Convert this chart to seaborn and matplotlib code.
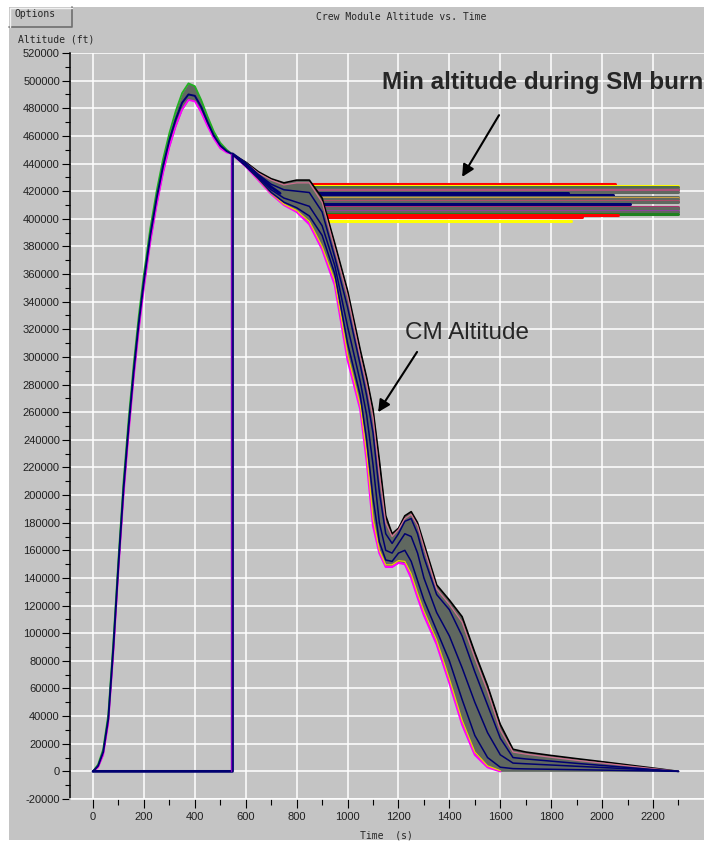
import matplotlib
matplotlib.use("Agg")
import matplotlib.pyplot as plt
import seaborn as sns
from matplotlib.patches import Rectangle
from matplotlib.lines import Line2D
from matplotlib.ticker import FixedLocator, FuncFormatter

# ---------------- data ----------------
# ascent (s, ft)
asc_t = [0, 20, 40, 60, 80, 100, 120, 140, 160, 180, 200, 225, 250, 275, 300,
         325, 350, 375, 400, 425, 450, 475, 500, 525, 545]
asc_mid = [0, 4000, 14000, 38000, 90000, 150000, 205000, 250000, 290000, 325000,
           355000, 388000, 415000, 438000, 457000, 472000, 484000, 490000, 489000,
           481000, 470000, 460000, 453000, 449000, 447000]
asc_lo = [0, 3000, 12000, 35000, 86000, 146000, 200000, 245000, 285000, 320000,
          350000, 383000, 410000, 433000, 452000, 467000, 479000, 486000, 485000,
          477000, 467000, 458000, 451000, 448000, 447000]
asc_hi = [0, 5000, 16000, 41000, 94000, 154000, 210000, 255000, 295000, 330000,
          360000, 393000, 420000, 443000, 462000, 478000, 491000, 498000, 496000,
          486000, 474000, 463000, 455000, 450000, 447000]

# descent after SM separation (s, ft)
desc_t = [545, 600, 650, 700, 750, 800, 850, 900, 950, 1000, 1050, 1075, 1100,
          1125, 1150, 1175, 1200, 1225, 1250, 1275, 1300, 1350, 1400, 1450,
          1500, 1550, 1600, 1650, 1700, 1800, 1900, 2000, 2100, 2200, 2300]
desc_lo = [447000, 438000, 428000, 418000, 410000, 405000, 396000, 378000, 352000,
           298000, 262000, 225000, 178000, 158000, 148000, 148000, 151000, 150000,
           140000, 126000, 113000, 92000, 64000, 34000, 12000, 3000, 0, 0, 0, 0,
           0, 0, 0, 0, 0]
desc_hi = [447000, 441000, 434000, 429000, 426000, 428000, 428000, 415000, 382000,
           348000, 305000, 285000, 262000, 225000, 185000, 172000, 176000, 185000,
           188000, 180000, 165000, 135000, 124000, 112000, 86000, 62000, 34000,
           16000, 14000, 11500, 9200, 7000, 4700, 2400, 0]
desc_pink = [447000, 440500, 433000, 428000, 424500, 426000, 426000, 412000,
             378000, 344000, 300000, 280000, 256000, 215000, 180000, 170000,
             175000, 183000, 186000, 178000, 162000, 132000, 121000, 108000,
             82000, 58000, 30000, 14000, 12500, 10200, 8000, 6000, 4000, 2000, 0]
desc_yellow = [447000, 438500, 428500, 418500, 410500, 406000, 398000, 380000,
               355000, 302000, 265000, 230000, 183000, 160000, 149500, 149500,
               152500, 152000, 143000, 129000, 116000, 95000, 67000, 37000,
               14000, 4000, 500]
desc_navy_a = [447000, 440000, 432000, 425000, 421000, 420000, 419000, 405000,
               372000, 336000, 294000, 272000, 245000, 202000, 172000, 165000,
               172000, 181000, 183000, 172000, 155000, 128000, 117000, 98000,
               72000, 48000, 24000, 10000, 9000, 7400, 5800, 4300, 2800, 1300, 0]
desc_navy_b = [447000, 439000, 430000, 421000, 415000, 412000, 409000, 395000,
               366000, 322000, 282000, 258000, 222000, 180000, 160000, 158000,
               165000, 172000, 170000, 158000, 140000, 115000, 98000, 75000,
               50000, 28000, 12000, 6000, 5500, 4600, 3700, 2800, 1900, 1000, 0]
desc_navy_c = [447000, 438000, 429000, 419000, 412000, 408000, 402000, 388000,
               360000, 310000, 272000, 240000, 198000, 166000, 153000, 152000,
               158000, 160000, 152000, 138000, 124000, 102000, 80000, 52000,
               26000, 10000, 3000, 2000, 1800, 1500, 1200, 900, 600, 300, 0]

# minimum altitude reached during the SM burn, one value per run
sm_min_alt = [425000, 424000, 422800, 421800, 420800, 419500, 418400, 417200,
              416000, 415000, 414000, 413000, 412000, 411000, 410400, 409500,
              408800, 407800, 406800, 405600, 404600, 403600, 402500, 401500,
              398600]
sm_burn_end = [745, 750, 760, 770, 780, 790, 735, 760, 800, 805, 810, 815, 820,
               790, 800, 813, 825, 830, 835, 840, 845, 850, 855, 858, 860]
sm_run_end = [2050, 2300, 2300, 2300, 2300, 2300, 1866, 2043, 2300, 2300, 2300,
              2300, 2300, 1842, 2110, 2050, 2300, 2300, 2300, 2300, 2300, 2300,
              2063, 1921, 1878]
sm_colors = ["#ff0000", "#ffff00", "#4f6b4f", "#606860", "#b0507a", "#606860",
             "#000070", "#000070", "#606860", "#c8a040", "#606860", "#b04a6a",
             "#606860", "#000070", "#000070", "#000070", "#b03070", "#606860",
             "#606860", "#9040a0", "#606860", "#208020", "#ff0000", "#ff0000",
             "#ffff00"]

# SM-burn altitude tracker before and at burn start
sm_track_t = [0, 548, 548, 600, 650, 700, 735]
sm_track_alt = [0, 0, 447000, 440000, 431000, 423000, 418400]

x_major = list(range(0, 2201, 200))
x_minor = list(range(100, 2301, 200))
y_major = list(range(-20000, 520001, 20000))
y_minor = list(range(-10000, 510001, 20000))

# ---------------- style ----------------
sns.set_style("white")
plt.rcParams["axes.unicode_minus"] = False
PANEL = "#c4c4c4"
BAND = "#606860"
NAVY = "#000070"
W, H = 704, 842

fig = plt.figure(figsize=(W / 100, H / 100), dpi=100, facecolor="white")


def fx(px):
    return px / W


def fy(py):
    return 1 - py / H


# window panel
fig.add_artist(Rectangle((fx(9), fy(840)), fx(704 - 9), (840 - 7) / H,
                         transform=fig.transFigure, facecolor=PANEL,
                         edgecolor="none", zorder=0))
# "Options" button
fig.add_artist(Rectangle((fx(9), fy(27)), fx(63), 20 / H, transform=fig.transFigure,
                         facecolor=PANEL, edgecolor="none", zorder=1))
fig.add_artist(Line2D([fx(9), fx(72), fx(72)], [fy(27), fy(27), fy(7)],
                      transform=fig.transFigure, color="#6e6e6e", lw=1.2, zorder=2))
fig.add_artist(Line2D([fx(9.5), fx(9.5), fx(72)], [fy(27), fy(7.5), fy(7.5)],
                      transform=fig.transFigure, color="#f0f0f0", lw=1.0, zorder=2))

mono = ["DejaVu Sans Mono"]
fig.text(fx(15), fy(14), "Options", family=mono, fontsize=7, va="center", ha="left")
fig.text(fx(401), fy(17), "Crew Module Altitude vs. Time", family=mono, fontsize=7,
         va="center", ha="center")
fig.text(fx(18), fy(39), "Altitude (ft)", family=mono, fontsize=7, va="center",
         ha="left")
fig.text(fx(386), fy(836), "Time  (s)", family=mono, fontsize=7, va="center",
         ha="center")

ax = fig.add_axes([fx(70), fy(799), fx(704 - 70), 746 / H])
ax.set_facecolor(PANEL)
ax.set_xlim(-90.4, 2400.3)
ax.set_ylim(-20000, 520000)


# ---------------- traces ----------------
def trace(x, y, color, lw=1.2, z=3):
    sns.lineplot(x=x, y=y, ax=ax, color=color, lw=lw, estimator=None, sort=False,
                 legend=False, zorder=z)


# SM burn minimum altitude lines
for alt, t0, t1, c in zip(sm_min_alt, sm_burn_end, sm_run_end, sm_colors):
    trace([t0, t1], [alt, alt], c, lw=2.2, z=2)

# dispersion bands
ax.fill_between(asc_t, asc_lo, asc_hi, color=BAND, lw=0, zorder=3)
ax.fill_between(desc_t, desc_lo, desc_hi, color=BAND, lw=0, zorder=3)

n_fall = len(desc_yellow)
trace(asc_t, asc_lo, "#ff00ff", lw=1.3, z=4)
trace(asc_t, asc_hi, "#20b020", lw=1.3, z=4)
trace(desc_t[:n_fall], desc_lo[:n_fall], "#ff00ff", lw=1.6, z=4)
trace(desc_t[:n_fall], desc_yellow, "#e8d000", lw=0.9, z=4)
trace(desc_t, desc_hi, "#000000", lw=1.2, z=4)
trace(desc_t, desc_pink, "#d07090", lw=0.9, z=4)
trace(asc_t, asc_mid, NAVY, lw=1.4, z=5)
for run in (desc_navy_a, desc_navy_b, desc_navy_c):
    trace(desc_t, run, NAVY, lw=1.1, z=5)

trace(sm_track_t, sm_track_alt, NAVY, lw=2.0, z=6)
trace([542, 542], [0, 447000], "#8000c0", lw=1.0, z=6)

# ---------------- axes ----------------
ax.xaxis.set_major_locator(FixedLocator(x_major))
ax.xaxis.set_minor_locator(FixedLocator(x_minor))
ax.yaxis.set_major_locator(FixedLocator(y_major))
ax.yaxis.set_minor_locator(FixedLocator(y_minor))
ax.yaxis.set_major_formatter(FuncFormatter(lambda v, p: f"{int(round(v))}"))
ax.xaxis.set_major_formatter(FuncFormatter(lambda v, p: f"{int(round(v))}"))

tick_font = ["Liberation Sans Narrow", "Liberation Sans", "DejaVu Sans"]
for lab in ax.get_xticklabels() + ax.get_yticklabels():
    lab.set_family(tick_font)
ax.tick_params(axis="both", which="both", direction="out", color="black",
               width=0.8, labelsize=8, labelcolor="#202020")
ax.tick_params(axis="y", which="major", length=5.8, pad=1.5)
ax.tick_params(axis="y", which="minor", length=3.6)
ax.tick_params(axis="x", which="major", length=6.5, pad=3)
ax.tick_params(axis="x", which="minor", length=4.5)
ax.tick_params(left=True, bottom=True, which="both")

ax.grid(True, which="major", color="white", lw=1.1)
ax.set_axisbelow(True)
for side in ("top", "right"):
    ax.spines[side].set_visible(False)
ax.spines["left"].set_color("black")
ax.spines["left"].set_linewidth(1.1)
ax.spines["bottom"].set_color("white")
ax.spines["bottom"].set_linewidth(1.1)

# ---------------- callouts ----------------
arrow = dict(arrowstyle="-|>", color="black", lw=1.5, mutation_scale=18,
             shrinkA=0, shrinkB=0)
ax.text(1135, 498300, "Min altitude during SM burn", fontsize=17.5,
        fontweight="bold", family=["Liberation Sans"], ha="left", va="center",
        zorder=8)
ax.annotate("", xy=(1450, 430300), xytext=(1595, 475000), arrowprops=arrow, zorder=8)
ax.text(1226, 317400, "CM Altitude", fontsize=17.5, family=["Liberation Sans"],
        ha="left", va="center", zorder=8)
ax.annotate("", xy=(1120, 260000), xytext=(1273, 303600), arrowprops=arrow, zorder=8)

fig.savefig("out.png", dpi=100, facecolor="white")
